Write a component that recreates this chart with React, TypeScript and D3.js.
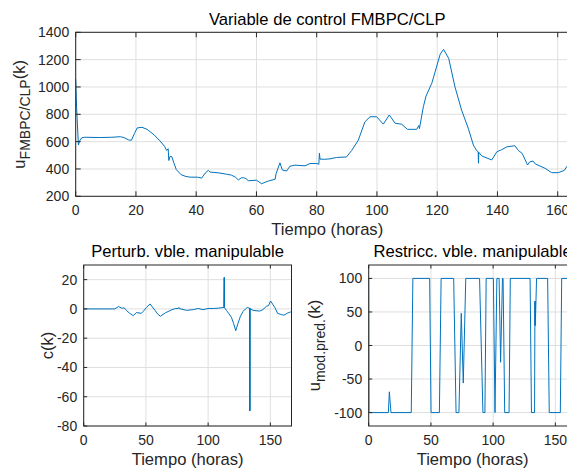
import React from "react";
import * as d3 from "d3";

type Pt = [number, number];

// Top panel: u_FMBPC/CLP(k) vs time (hours)
const topSeries: Pt[] = [
  [0, 1060], [0.3, 850], [0.9, 575], [1.3, 605], [2, 628], [3, 632], [8, 630], [12, 632],
  [14.8, 636], [16, 630], [17.6, 612], [18.5, 610], [19.5, 660], [20.4, 700], [22, 705],
  [23.7, 690], [26, 650], [28, 605], [29.5, 565], [30.2, 535], [30.7, 548], [30.9, 462],
  [31.3, 492], [31.9, 490], [32.5, 450], [33.4, 395], [35, 358], [36.6, 345], [38, 340],
  [40.4, 340], [41.8, 333], [43, 370], [44, 390], [44.6, 377], [47.3, 372], [50, 362],
  [51.7, 355], [53, 340], [54, 320], [55, 335], [55.7, 336], [56.5, 330], [57.3, 314],
  [60, 318], [61.7, 292], [62.8, 302], [64, 312], [66.2, 325], [66.5, 365], [67.8, 445],
  [68.6, 392], [70, 385], [71.1, 420], [72.8, 428], [76.1, 423], [77.8, 440], [80, 440],
  [80.7, 434], [80.9, 515], [81.1, 472], [82.7, 471], [84.4, 474], [86.6, 484], [89.9, 488],
  [91.6, 535], [93.8, 610], [96, 745], [97.7, 782], [99.9, 782], [102.1, 728], [104.1, 795],
  [106, 735], [108.2, 727], [110.1, 690], [113.2, 690], [113.9, 718], [114.1, 695],
  [115.4, 855], [116.3, 934], [118.2, 1027], [121, 1240], [122.1, 1275], [123.8, 1210],
  [125.9, 1000], [128.1, 830], [130.3, 698], [132, 575], [133.1, 534], [133.6, 526],
  [133.7, 442], [133.8, 522], [134.8, 495], [138.1, 466], [139.8, 526], [141.4, 541],
  [143.1, 562], [145.8, 570], [146.9, 536], [148.2, 514], [150, 429], [150.7, 452],
  [151.8, 458], [152.6, 436], [155.8, 405], [158, 373], [160.2, 373], [162.2, 390],
  [163.1, 421], [165, 450], [167, 470],
];

// Bottom-left: c(k)
const perturbSeries: Pt[] = [
  [0, 0], [25, 0], [28, 1.6], [30.6, 0.5], [32.6, 0.7], [34.5, -1.2], [37, -3], [39.8, -4.6],
  [42.4, -2.5], [46.4, -3], [47.7, -1.8], [50.5, 1], [53.3, 3.4], [57.3, -1], [59.5, -3.5],
  [61.6, -5], [65.6, -2.7], [71, -0.5], [74, 0.3], [76, 0.2], [76.5, 1], [77, 0.2],
  [82.7, -1], [88, -0.5], [92, 0.3], [96, -0.5], [100, 0.3], [104, 0.3], [108, 0.5],
  [112.6, 1], [112.9, 21.5], [113.0, 1], [113.1, 21.5], [113.2, 0.8], [114.7, -1],
  [116.5, -3], [118.7, -5.7], [120.5, -10], [122.2, -14.9], [124, -9.8], [126, -5],
  [128, -1.8], [130, 0], [131.5, 1], [133.3, 0.5], [133.4, -69.6], [133.5, 0.5],
  [133.6, -69.6], [133.7, 0.3], [136.1, -1], [141.4, -1.5], [144, -0.5], [146.9, 1.8],
  [148.5, 2.2], [150.2, 5.4], [153.6, 1], [155.8, -3], [158.9, -3.9], [161, -4.3],
  [163.5, -3], [166.4, -2],
];

// Bottom-right: u_mod.pred.(k)
const restrictSeries: Pt[] = [
  [0, 100], [0.2, -100], [15.8, -100], [16.6, -69], [17.9, -100], [34.2, -100], [35.5, 100],
  [49, 100], [50.1, -100], [56.8, -100], [58.2, 100], [68.3, 100], [70.2, -100],
  [72.5, -100], [74.4, 48], [76, -56], [78, 100], [89.1, 100], [91.8, -100], [93.4, -100],
  [94.4, 100], [100.2, 100], [101.5, -100], [103, 100], [104.8, 100], [106, -25],
  [107.5, 100], [108, 100], [109.3, -100], [112.8, -100], [113.8, 100], [129.7, 100],
  [130.8, -100], [133.3, -100], [133.6, 66], [133.7, 30], [133.8, 66], [133.9, 30],
  [134.9, 100], [143.8, 100], [145.1, -100], [154, -100], [155.1, 100], [167, 100],
];

const topXTicks = [0, 20, 40, 60, 80, 100, 120, 140, 160];
const topYTicks = [200, 400, 600, 800, 1000, 1200, 1400];
const bottomXTicks = [0, 50, 100, 150];
const perturbYTicks = [-80, -60, -40, -20, 0, 20];
const restrictYTicks = [-100, -50, 0, 50, 100];

const FONT = "'Liberation Sans', Arial, Helvetica, sans-serif";
const TXT = "#262626";
const LINE = "#0072BD";

interface PanelProps {
  id: string;
  left: number;
  right: number;
  top: number;
  bottom: number;
  xDomain: [number, number];
  yDomain: [number, number];
  xTicks: number[];
  yTicks: number[];
  data: Pt[];
  title: string;
  titleY: number;
  tickLen: number;
  yLabelX: number;
  yLabelMain: string;
  yLabelSub?: string;
}

function Panel(p: PanelProps) {
  const x = d3.scaleLinear().domain(p.xDomain).range([p.left, p.right]);
  const y = d3.scaleLinear().domain(p.yDomain).range([p.bottom, p.top]);
  const line = d3
    .line<Pt>()
    .x((d) => x(d[0]))
    .y((d) => y(d[1]));
  const cx = (p.left + p.right) / 2;
  const cy = (p.top + p.bottom) / 2;
  return (
    <g>
      <defs>
        <clipPath id={p.id}>
          <rect x={p.left} y={p.top} width={p.right - p.left} height={p.bottom - p.top} />
        </clipPath>
      </defs>
      <rect x={p.left} y={p.top} width={p.right - p.left} height={p.bottom - p.top} fill="#fff" />
      {p.xTicks.map((t) => (
        <line key={"gx" + t} x1={x(t)} x2={x(t)} y1={p.top} y2={p.bottom} stroke="#dfdfdf" strokeWidth={1} />
      ))}
      {p.yTicks.map((t) => (
        <line key={"gy" + t} x1={p.left} x2={p.right} y1={y(t)} y2={y(t)} stroke="#dfdfdf" strokeWidth={1} />
      ))}
      <path d={line(p.data) || ""} fill="none" stroke={LINE} strokeWidth={1} clipPath={`url(#${p.id})`} />
      <rect x={p.left} y={p.top} width={p.right - p.left} height={p.bottom - p.top} fill="none" stroke={TXT} strokeWidth={1} />
      {p.xTicks.map((t) => (
        <g key={"tx" + t}>
          <line x1={x(t)} x2={x(t)} y1={p.bottom} y2={p.bottom - p.tickLen} stroke={TXT} strokeWidth={1} />
          <line x1={x(t)} x2={x(t)} y1={p.top} y2={p.top + p.tickLen} stroke={TXT} strokeWidth={1} />
          <text x={x(t)} y={p.bottom + 19} textAnchor="middle" fontSize={14} fill={TXT} fontFamily={FONT}>
            {t}
          </text>
        </g>
      ))}
      {p.yTicks.map((t) => (
        <g key={"ty" + t}>
          <line x1={p.left} x2={p.left + p.tickLen} y1={y(t)} y2={y(t)} stroke={TXT} strokeWidth={1} />
          <text x={p.left - 6.5} y={y(t)} dy="0.36em" textAnchor="end" fontSize={14} fill={TXT} fontFamily={FONT}>
            {t}
          </text>
        </g>
      ))}
      <text x={cx} y={p.titleY} textAnchor="middle" fontSize={16.6} fill="#000" fontFamily={FONT}>
        {p.title}
      </text>
      <text x={cx} y={p.bottom + 39} textAnchor="middle" fontSize={16.6} fill={TXT} fontFamily={FONT}>
        Tiempo (horas)
      </text>
      <text
        transform={`translate(${p.yLabelX},${cy}) rotate(-90)`}
        textAnchor="middle"
        fontSize={16.6}
        fill={TXT}
        fontFamily={FONT}
      >
        {p.yLabelSub ? (
          <>
            <tspan>u</tspan>
            <tspan fontSize={14} dy={5}>
              {p.yLabelSub}
            </tspan>
            <tspan dy={-5}>(k)</tspan>
          </>
        ) : (
          p.yLabelMain
        )}
      </text>
    </g>
  );
}

export default function App() {
  return (
    <svg
      width={567}
      height={471}
      style={{ position: "absolute", left: 0, top: 0, background: "#fff" }}
    >
      <rect x={0} y={0} width={567} height={471} fill="#fff" />
      <Panel
        id="clipTop"
        left={75.7}
        right={578.8}
        top={32.3}
        bottom={196.3}
        xDomain={[0, 167]}
        yDomain={[200, 1400]}
        xTicks={topXTicks}
        yTicks={topYTicks}
        data={topSeries}
        title="Variable de control FMBPC/CLP"
        titleY={24.5}
        tickLen={5}
        yLabelX={24.5}
        yLabelMain="u"
        yLabelSub="FMBPC/CLP"
      />
      <Panel
        id="clipBL"
        left={83.7}
        right={291.5}
        top={265}
        bottom={426}
        xDomain={[0, 167]}
        yDomain={[-80, 30]}
        xTicks={bottomXTicks}
        yTicks={perturbYTicks}
        data={perturbSeries}
        title="Perturb. vble. manipulable"
        titleY={257}
        tickLen={3.5}
        yLabelX={53}
        yLabelMain="c(k)"
      />
      <Panel
        id="clipBR"
        left={368.7}
        right={576.5}
        top={265}
        bottom={426}
        xDomain={[0, 167]}
        yDomain={[-120, 120]}
        xTicks={bottomXTicks}
        yTicks={restrictYTicks}
        data={restrictSeries}
        title="Restricc. vble. manipulable"
        titleY={257}
        tickLen={3.5}
        yLabelX={320}
        yLabelMain="u"
        yLabelSub="mod.pred."
      />
    </svg>
  );
}
